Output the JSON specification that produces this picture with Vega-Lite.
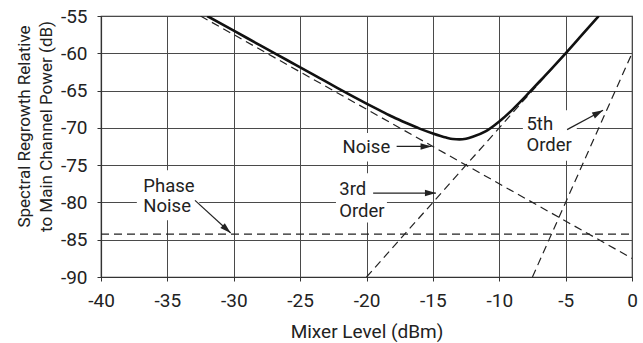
{
  "$schema": "https://vega.github.io/schema/vega-lite/v6.json",
  "width": 531,
  "height": 261,
  "autosize": {"type": "none"},
  "padding": {"left": 101, "top": 16, "right": 11, "bottom": 66},
  "background": "white",
  "config": {
    "view": {"stroke": "#333", "strokeWidth": 1.2},
    "axis": {
      "labelFont": "Roboto",
      "labelFontSize": 19,
      "labelColor": "#222",
      "labelExpr": "'' + datum.value",
      "titleFont": "Roboto",
      "titleFontSize": 19,
      "titleFontWeight": "normal",
      "titleColor": "#222",
      "grid": true,
      "gridColor": "#4a4a4a",
      "gridWidth": 1,
      "gridOpacity": 1,
      "domainColor": "#333",
      "domainWidth": 1.2,
      "tickColor": "#333",
      "tickSize": 4,
      "labelPadding": 10,
      "labelOverlap": false,
      "labelBound": false,
      "labelFlush": false
    }
  },
  "datasets": {
    "lines": [
      {"series": "Noise", "x": -32.5, "y": -55},
      {"series": "Noise", "x": 0, "y": -87.5},
      {"series": "Phase Noise", "x": -40, "y": -84.25},
      {"series": "Phase Noise", "x": 0, "y": -84.25},
      {"series": "3rd Order", "x": -20, "y": -90},
      {"series": "3rd Order", "x": -2.5, "y": -55},
      {"series": "5th Order", "x": -7.5, "y": -90},
      {"series": "5th Order", "x": 0, "y": -60}
    ],
    "total": [
      {"x": -32.0, "y": -55.0},
      {"x": -30, "y": -56.95},
      {"x": -28, "y": -58.95},
      {"x": -26, "y": -60.9},
      {"x": -24, "y": -62.85},
      {"x": -22, "y": -64.85},
      {"x": -20, "y": -66.75},
      {"x": -19, "y": -67.65},
      {"x": -18, "y": -68.55},
      {"x": -17, "y": -69.35},
      {"x": -16, "y": -70.1},
      {"x": -15, "y": -70.75},
      {"x": -14, "y": -71.3},
      {"x": -13.5, "y": -71.5},
      {"x": -13, "y": -71.55},
      {"x": -12.5, "y": -71.45},
      {"x": -12, "y": -71.2},
      {"x": -11, "y": -70.45},
      {"x": -10, "y": -69.15},
      {"x": -9, "y": -67.55},
      {"x": -8, "y": -65.75},
      {"x": -7, "y": -63.85},
      {"x": -6, "y": -61.95},
      {"x": -5, "y": -60.0},
      {"x": -4, "y": -58.0},
      {"x": -3, "y": -56.0},
      {"x": -2.5, "y": -55.0}
    ],
    "boxes": [
      {"name": "Phase Noise", "x1": -37.3, "x2": -32.6, "y1": -75.7, "y2": -82.4},
      {"name": "Noise", "x1": -22.15, "x2": -17.94, "y1": -70.7, "y2": -74.5},
      {"name": "3rd Order", "x1": -22.3, "x2": -18.46, "y1": -76.1, "y2": -82.7},
      {"name": "5th Order", "x1": -8.22, "x2": -4.16, "y1": -67.65, "y2": -74.4}
    ],
    "arrows": [
      {"name": "Noise", "x": -17.73, "y": -72.49, "x2": -15.1, "y2": -72.49},
      {"name": "3rd Order", "x": -19.5, "y": -78.74, "x2": -14.77, "y2": -78.74},
      {"name": "5th Order", "x": -4.89, "y": -70.24, "x2": -2.18, "y2": -67.65},
      {"name": "Phase Noise", "x": -32.92, "y": -79.72, "x2": -30.23, "y2": -84.1}
    ],
    "labels": [
      {"label": "Noise", "x": -21.8, "y": -72.5},
      {"label": "5th", "x": -7.95, "y": -69.54},
      {"label": "Order", "x": -7.95, "y": -72.36},
      {"label": "3rd", "x": -22.05, "y": -78.16},
      {"label": "Order", "x": -22.05, "y": -81.15},
      {"label": "Phase", "x": -36.81, "y": -77.8},
      {"label": "Noise", "x": -36.81, "y": -80.52}
    ]
  },
  "encoding": {
    "x": {
      "field": "x",
      "type": "quantitative",
      "scale": {"domain": [-40, 0], "nice": false, "zero": false},
      "axis": {
        "values": [-40, -35, -30, -25, -20, -15, -10, -5, 0],
        "title": "Mixer Level (dBm)",
        "titleY": 60,
        "titleBaseline": "alphabetic"
      }
    },
    "y": {
      "field": "y",
      "type": "quantitative",
      "scale": {"domain": [-90, -55], "nice": false, "zero": false},
      "axis": {
        "values": [-90, -85, -80, -75, -70, -65, -60, -55],
        "title": ["Spectral Regrowth Relative", "to Main Channel Power (dB)"],
        "titleFontSize": 17,
        "titleAngle": -90,
        "titleX": -72,
        "titleY": 110,
        "titleAlign": "center",
        "titleBaseline": "alphabetic",
        "titleLineHeight": 22
      }
    }
  },
  "layer": [
    {
      "data": {"name": "boxes"},
      "mark": {"type": "rect", "fill": "white", "stroke": null},
      "encoding": {
        "x": {"field": "x1", "type": "quantitative"},
        "x2": {"field": "x2"},
        "y": {"field": "y1", "type": "quantitative"},
        "y2": {"field": "y2"}
      }
    },
    {
      "data": {"name": "lines"},
      "mark": {"type": "line", "color": "#222", "strokeWidth": 1.2, "strokeDash": [8, 5], "clip": true},
      "encoding": {
        "detail": {"field": "series", "type": "nominal"}
      }
    },
    {
      "data": {"name": "total"},
      "mark": {"type": "line", "color": "#111", "strokeWidth": 2.6, "interpolate": "monotone", "clip": true},
      "encoding": {}
    },
    {
      "data": {"name": "arrows"},
      "mark": {"type": "rule", "color": "#222", "strokeWidth": 1.2},
      "encoding": {
        "x2": {"field": "x2"},
        "y2": {"field": "y2"}
      }
    },
    {
      "data": {"name": "arrows"},
      "transform": [{"filter": "datum.name === 'Noise' || datum.name === '3rd Order'"}],
      "mark": {"type": "point", "shape": "M0,0L-2,-0.6L-2,0.6Z", "size": 121, "filled": true, "color": "#222", "opacity": 1, "angle": 0},
      "encoding": {
        "x": {"field": "x2", "type": "quantitative"},
        "y": {"field": "y2", "type": "quantitative"}
      }
    },
    {
      "data": {"name": "arrows"},
      "transform": [{"filter": "datum.name === '5th Order'"}],
      "mark": {"type": "point", "shape": "M0,0L-2,-0.6L-2,0.6Z", "size": 121, "filled": true, "color": "#222", "opacity": 1, "angle": -28},
      "encoding": {
        "x": {"field": "x2", "type": "quantitative"},
        "y": {"field": "y2", "type": "quantitative"}
      }
    },
    {
      "data": {"name": "arrows"},
      "transform": [{"filter": "datum.name === 'Phase Noise'"}],
      "mark": {"type": "point", "shape": "M0,0L-2,-0.6L-2,0.6Z", "size": 121, "filled": true, "color": "#222", "opacity": 1, "angle": 42.5},
      "encoding": {
        "x": {"field": "x2", "type": "quantitative"},
        "y": {"field": "y2", "type": "quantitative"}
      }
    },
    {
      "data": {"name": "labels"},
      "mark": {"type": "text", "font": "Roboto", "fontSize": 18.5, "color": "#222", "align": "left", "baseline": "middle"},
      "encoding": {
        "text": {"field": "label", "type": "nominal"}
      }
    }
  ]
}
